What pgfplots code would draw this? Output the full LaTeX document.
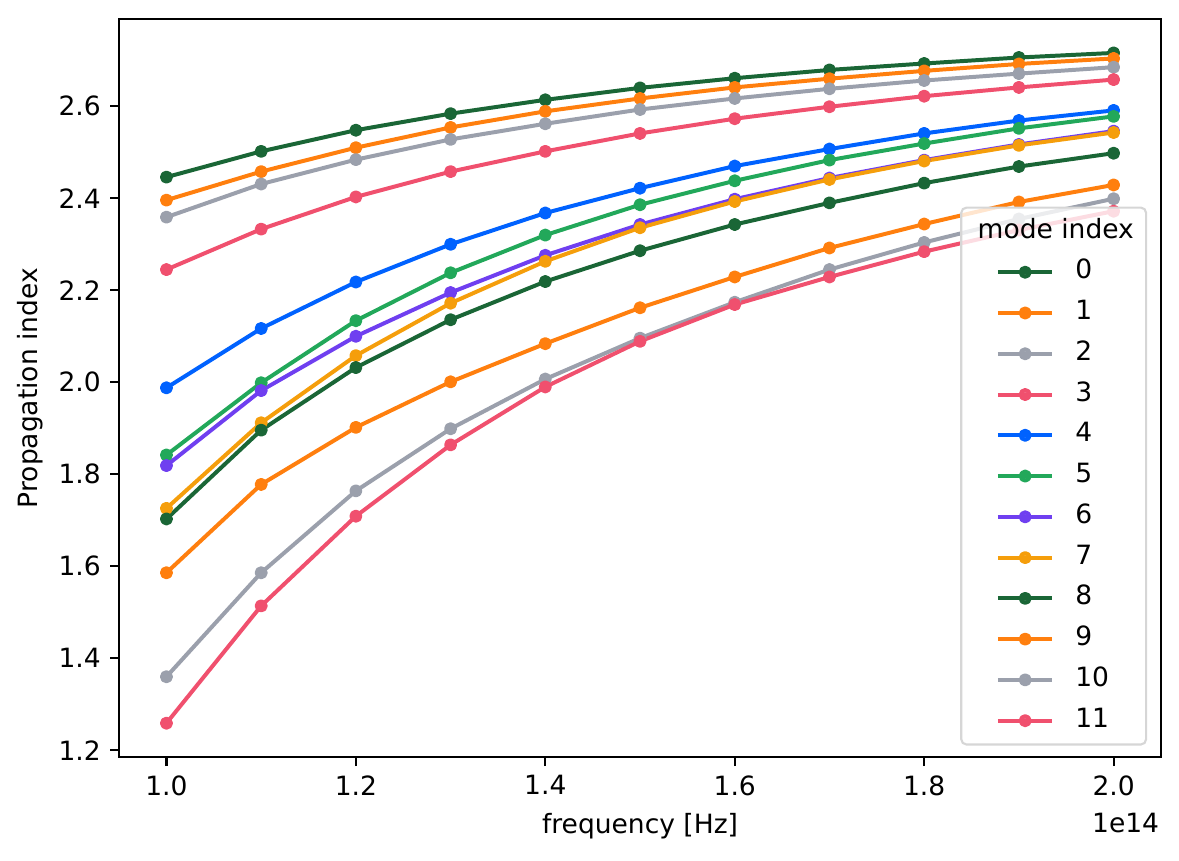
\documentclass[border=0pt]{standalone}
\usepackage{fontspec}
\setmainfont{DejaVu Sans}
\usepackage{pgfplots}
\usepackage{pgfplotstable}
\pgfplotsset{compat=1.18}

\definecolor{cA}{RGB}{26,102,54}
\definecolor{cB}{RGB}{255,127,14}
\definecolor{cC}{RGB}{155,160,172}
\definecolor{cD}{RGB}{240,80,110}
\definecolor{cE}{RGB}{0,98,255}
\definecolor{cF}{RGB}{34,168,90}
\definecolor{cG}{RGB}{111,63,240}
\definecolor{cH}{RGB}{245,158,11}
\definecolor{legframe}{RGB}{214,214,214}

\pgfplotstableread{
x   s0    s1    s2    s3    s4    s5    s6    s7    s8    s9    s10   s11
1.0 2.446 2.396 2.359 2.245 1.988 1.842 1.819 1.726 1.703 1.586 1.360 1.259
1.1 2.502 2.458 2.431 2.333 2.117 1.999 1.982 1.912 1.896 1.778 1.586 1.514
1.2 2.548 2.510 2.484 2.403 2.218 2.134 2.100 2.058 2.032 1.902 1.764 1.709
1.3 2.584 2.554 2.528 2.458 2.300 2.238 2.195 2.172 2.136 2.001 1.899 1.864
1.4 2.614 2.589 2.562 2.502 2.368 2.320 2.276 2.263 2.219 2.084 2.007 1.990
1.5 2.640 2.617 2.593 2.541 2.422 2.386 2.343 2.336 2.286 2.162 2.096 2.089
1.6 2.661 2.641 2.617 2.573 2.470 2.438 2.398 2.393 2.343 2.229 2.174 2.169
1.7 2.679 2.660 2.638 2.599 2.507 2.483 2.444 2.441 2.390 2.292 2.245 2.229
1.8 2.693 2.677 2.656 2.622 2.541 2.519 2.483 2.481 2.433 2.344 2.304 2.284
1.9 2.706 2.692 2.671 2.641 2.569 2.552 2.517 2.515 2.469 2.392 2.355 2.331
2.0 2.716 2.704 2.685 2.658 2.591 2.578 2.546 2.543 2.498 2.429 2.399 2.372
}\datatable

\begin{document}
\begin{tikzpicture}
\begin{axis}[
  at={(0,0)}, anchor=south west,
  scale only axis, width=392.8pt, height=278.2pt,
  xmin=0.95, xmax=2.05, ymin=1.1855, ymax=2.7895,
  xtick={1.0,1.2,1.4,1.6,1.8,2.0},
  ytick={1.2,1.4,1.6,1.8,2.0,2.2,2.4,2.6},
  /pgf/number format/assume math mode=true,
  xticklabel style={/pgf/number format/.cd, fixed, fixed zerofill, precision=1},
  yticklabel style={/pgf/number format/.cd, fixed, fixed zerofill, precision=1},
  tick label style={font=\fontsize{10}{12}\selectfont},
  scaled x ticks=false,
  tick align=outside, major tick length=3.4pt,
  xtick pos=bottom, ytick pos=left,
  minor tick num=0,
  axis line style={line width=0.8pt},
  every tick/.style={line width=0.8pt, black},
  xlabel={frequency [Hz]},
  ylabel={Propagation index},
  xlabel style={at={([yshift=-29pt]axis description cs:0.5,0)}, anchor=base, inner sep=0pt, font=\fontsize{10}{12}\selectfont},
  ylabel style={at={([xshift=-30.8pt]axis description cs:0,0.5)}, anchor=base, inner sep=0pt, font=\fontsize{10}{12}\selectfont},
  every axis plot/.append style={line width=1.5pt, mark=*, mark size=1.7pt, line join=round},
  legend cell align=left,
  legend style={
    at={(1,0)}, anchor=south east, xshift=-5.2pt, yshift=4.3pt,
    draw=legframe, line width=0.8pt, rounded corners=2pt,
    fill=white, fill opacity=0.8, text opacity=1,
    inner xsep=4.6pt, inner ysep=4pt,
    column sep=7.9pt, row sep=5.37pt,
    nodes={inner sep=0pt, text height=7.5pt, text depth=2.5pt},
    font=\fontsize{10}{12}\selectfont,
  },
  legend image code/.code={
    \path (0pt,0pt);
    \draw[mark repeat=2, mark phase=2, #1] plot coordinates {(8.5pt,0pt) (18.75pt,0pt) (29pt,0pt)};
  },
]
\addlegendimage{empty legend}
\addlegendentry{\hspace*{-36.8pt}mode index}
\addplot[color=cA] table[x=x, y=s0] {\datatable}; \addlegendentry{0}
\addplot[color=cB] table[x=x, y=s1] {\datatable}; \addlegendentry{1}
\addplot[color=cC] table[x=x, y=s2] {\datatable}; \addlegendentry{2}
\addplot[color=cD] table[x=x, y=s3] {\datatable}; \addlegendentry{3}
\addplot[color=cE] table[x=x, y=s4] {\datatable}; \addlegendentry{4}
\addplot[color=cF] table[x=x, y=s5] {\datatable}; \addlegendentry{5}
\addplot[color=cG] table[x=x, y=s6] {\datatable}; \addlegendentry{6}
\addplot[color=cH] table[x=x, y=s7] {\datatable}; \addlegendentry{7}
\addplot[color=cA] table[x=x, y=s8] {\datatable}; \addlegendentry{8}
\addplot[color=cB] table[x=x, y=s9] {\datatable}; \addlegendentry{9}
\addplot[color=cC] table[x=x, y=s10] {\datatable}; \addlegendentry{10}
\addplot[color=cD] table[x=x, y=s11] {\datatable}; \addlegendentry{11}
\end{axis}
\node[anchor=base east, inner sep=0pt, font=\fontsize{10}{12}\selectfont] at (392.3pt,-28.3pt) {1e14};
\pgfresetboundingbox
\path[use as bounding box] (-44.9pt,-39.2pt) rectangle (399.6pt,285.4pt);
\end{tikzpicture}
\end{document}
